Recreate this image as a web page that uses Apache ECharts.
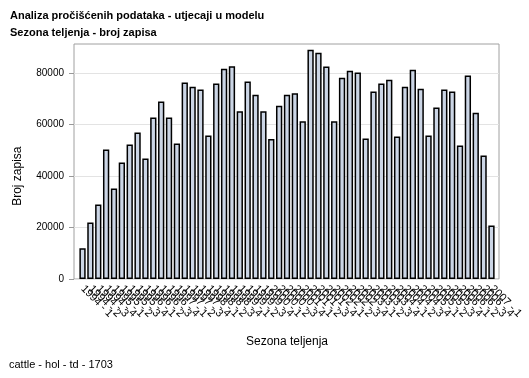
<!DOCTYPE html>
<html><head><meta charset="utf-8">
<script src="https://cdn.jsdelivr.net/npm/echarts@6/dist/echarts.min.js"></script>
<style>html,body{margin:0;padding:0;background:#fff}#c{width:529px;height:378px}</style>
</head><body><div id="c"></div>
<script>
const titleText = 'Analiza pročišćenih podataka - utjecaji u modelu';
const subtitleText = 'Sezona teljenja - broj zapisa';
const footerText = 'cattle - hol - td - 1703';
const xAxisTitle = 'Sezona teljenja';
const yAxisTitle = 'Broj zapisa';

const categories = [
  '1994 - 1','1994 - 2','1994 - 3','1994 - 4',
  '1995 - 1','1995 - 2','1995 - 3','1995 - 4',
  '1996 - 1','1996 - 2','1996 - 3','1996 - 4',
  '1997 - 1','1997 - 2','1997 - 3','1997 - 4',
  '1998 - 1','1998 - 2','1998 - 3','1998 - 4',
  '1999 - 1','1999 - 2','1999 - 3','1999 - 4',
  '2000 - 1','2000 - 2','2000 - 3','2000 - 4',
  '2001 - 1','2001 - 2','2001 - 3','2001 - 4',
  '2002 - 1','2002 - 2','2002 - 3','2002 - 4',
  '2003 - 1','2003 - 2','2003 - 3','2003 - 4',
  '2004 - 1','2004 - 2','2004 - 3','2004 - 4',
  '2005 - 1','2005 - 2','2005 - 3','2005 - 4',
  '2006 - 1','2006 - 2','2006 - 3','2006 - 4',
  '2007 - 1'
];

const counts = [
  12000, 22000, 29000, 50400, 35200, 45300, 52300, 57000, 46900, 62800,
  69000, 62800, 52700, 76400, 74800, 73700, 55800, 76000, 81800, 82700,
  65200, 76800, 71700, 65200, 54400, 67400, 71700, 72200, 61400, 89200,
  88000, 82600, 61400, 78300, 81000, 80300, 54600, 72900, 76000, 77500,
  55400, 74800, 81400, 74000, 55800, 66700, 73700, 72900, 51900, 79100,
  64700, 48000, 20800
];

const yMin = 0, yMax = 80000, yStep = 20000;

const FONT = "'Liberation Sans', Arial, sans-serif";
const chart = echarts.init(document.getElementById('c'), null, {renderer: 'canvas'});
chart.setOption({
  animation: false,
  backgroundColor: '#fff',
  textStyle: {fontFamily: FONT},
  title: [
    {left: 10, top: 10, padding: 0, text: titleText, subtext: subtitleText, itemGap: 6,
     textStyle: {fontSize: 11, fontWeight: 'bold', color: '#000', fontFamily: FONT},
     subtextStyle: {fontSize: 11, fontWeight: 'bold', color: '#000', fontFamily: FONT}},
    {left: 9, top: 359, padding: 0, text: footerText,
     textStyle: {fontSize: 11, fontWeight: 'normal', color: '#000', fontFamily: FONT}}
  ],
  grid: [
    {left: 74, right: 30, top: 44, bottom: 99, show: true, borderColor: '#a0a0a0', borderWidth: 1},
    {left: 74, right: 30, top: 73.3, bottom: 99},
    {left: 78.6, right: 33.6, top: 73.3, bottom: 99}
  ],
  xAxis: [
    {gridIndex: 0, type: 'value', show: false},
    {gridIndex: 1, type: 'value', show: false},
    {gridIndex: 2, type: 'category', data: categories,
     axisLine: {show: false},
     axisTick: {alignWithLabel: true, length: 5, lineStyle: {color: '#999'}},
     axisLabel: {rotate: -45, interval: 0, fontSize: 11, margin: 8, color: '#000', fontFamily: FONT},
     name: xAxisTitle, nameLocation: 'middle', nameGap: 57,
     nameTextStyle: {fontSize: 12, color: '#000', fontFamily: FONT}}
  ],
  yAxis: [
    {gridIndex: 0, type: 'value', show: false},
    {gridIndex: 1, type: 'value', min: yMin, max: yMax, interval: yStep,
     axisLine: {show: false},
     axisTick: {show: true, length: 5, lineStyle: {color: '#999'}},
     splitLine: {lineStyle: {color: '#e3e3e3'}},
     axisLabel: {fontSize: 10, color: '#000', margin: 10, fontFamily: FONT,
                 formatter: function (v) { return String(v); }},
     name: yAxisTitle, nameLocation: 'middle', nameGap: 50,
     nameTextStyle: {fontSize: 12, color: '#000', fontFamily: FONT}},
    {gridIndex: 2, type: 'value', min: yMin, max: yMax, show: false}
  ],
  series: [{
    type: 'bar', xAxisIndex: 2, yAxisIndex: 2, data: counts, clip: false,
    barCategoryGap: '20%', silent: true,
    itemStyle: {color: '#cbd5e5', borderColor: '#000', borderWidth: 1.5}
  }]
});
</script></body></html>
